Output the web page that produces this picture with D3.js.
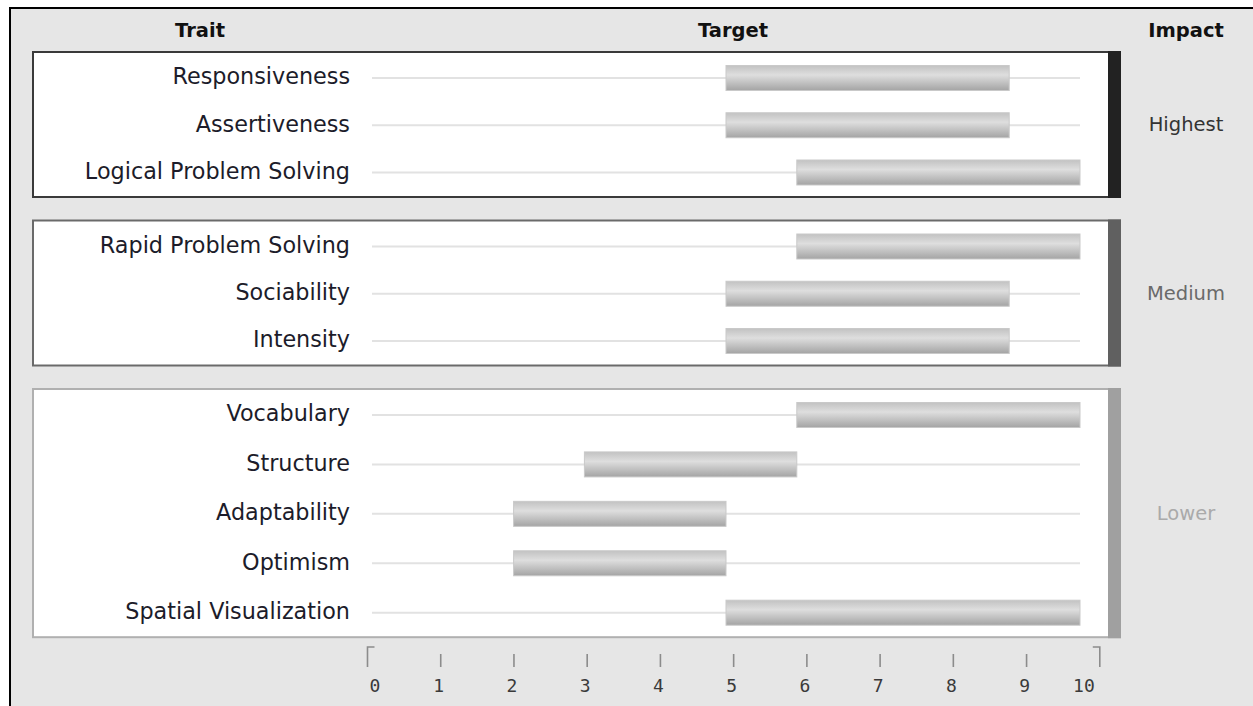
<!DOCTYPE html>
<html>
<head>
<meta charset="utf-8">
<script src="https://cdn.jsdelivr.net/npm/d3@7"></script>
<style>
  html, body { margin: 0; padding: 0; background: #ffffff; }
  svg { display: block; }
</style>
</head>
<body>
<svg id="chart" width="1253" height="706"></svg>
<script>
// ---- data ----
const impactLevels = ["Highest", "Medium", "Lower"];
const traits = ["Responsiveness", "Assertiveness", "Logical Problem Solving",
  "Rapid Problem Solving", "Sociability", "Intensity",
  "Vocabulary", "Structure", "Adaptability", "Optimism", "Spatial Visualization"];
const traitImpact = ["Highest", "Highest", "Highest",
  "Medium", "Medium", "Medium",
  "Lower", "Lower", "Lower", "Lower", "Lower"];
const targetLow  = [5, 5, 6, 6, 5, 5, 6, 3, 2, 2, 5];
const targetHigh = [9, 9, 10, 10, 9, 9, 10, 6, 5, 5, 10];
const tickLabels = [0, 1, 2, 3, 4, 5, 6, 7, 8, 9, 10];
const headers = ["Trait", "Target", "Impact"];

// ---- styles ----
const impactColor = { Highest: "#222222", Medium: "#606060", Lower: "#a0a0a0" };
const boxBorder   = { Highest: "#3a3a3a", Medium: "#6a6a6a", Lower: "#b0b0b0" };
const impactText  = { Highest: "#333333", Medium: "#6a6a6a", Lower: "#aaaaaa" };

const svg = d3.select("#chart");

// gradient for bars
const defs = svg.append("defs");
const grad = defs.append("linearGradient").attr("id", "barGrad")
  .attr("x1", 0).attr("y1", 0).attr("x2", 0).attr("y2", 1);
grad.append("stop").attr("offset", "0%").attr("stop-color", "#c2c2c2");
grad.append("stop").attr("offset", "38%").attr("stop-color", "#dedede");
grad.append("stop").attr("offset", "100%").attr("stop-color", "#a4a4a4");

// outer panel
svg.append("rect").attr("x", 10).attr("y", 8).attr("width", 1400).attr("height", 900)
  .attr("fill", "#e6e6e6").attr("stroke", "#000").attr("stroke-width", 2);

// scales
const xBar = d3.scaleLinear().domain([0, 10]).range([372, 1080]);
const xAxisScale = d3.scaleLinear().domain([0, 10]).range([367, 1099.3]);

const boxLeft = 33, boxRight = 1120, barStripW = 12;
const rowH = 51.6, boxShrink = 9.8, boxGap = 23.5, firstTop = 52;

// group layout
const groups = impactLevels.map(level => ({
  level,
  idx: traits.map((t, i) => i).filter(i => traitImpact[i] === level)
}));
let yCursor = firstTop;
groups.forEach(g => {
  g.top = yCursor;
  g.height = g.idx.length * rowH - boxShrink;
  g.bottom = g.top + g.height;
  g.y = d3.scalePoint().domain(g.idx.map(i => traits[i]))
    .range([g.top + 26, g.bottom - 24.5]);
  yCursor = g.bottom + boxGap;
});

// headers
const headerX = [200, 733, 1186];
svg.selectAll("text.header").data(headers).join("text")
  .attr("class", "header")
  .attr("x", (d, i) => headerX[i]).attr("y", 30)
  .attr("dy", "0.35em")
  .attr("text-anchor", "middle")
  .attr("font-family", "DejaVu Sans, Verdana, sans-serif")
  .attr("font-weight", "bold").attr("font-size", 19.5)
  .attr("fill", "#111")
  .text(d => d);

// boxes
const gBox = svg.selectAll("g.box").data(groups).join("g").attr("class", "box");
gBox.append("rect")
  .attr("x", boxLeft).attr("y", d => d.top)
  .attr("width", boxRight - boxLeft).attr("height", d => d.height)
  .attr("fill", "#fff").attr("stroke", d => boxBorder[d.level]).attr("stroke-width", 2);
gBox.append("rect")
  .attr("x", boxRight - barStripW).attr("y", d => d.top - 1)
  .attr("width", barStripW + 1).attr("height", d => d.height + 2)
  .attr("fill", d => impactColor[d.level]);
gBox.append("text")
  .attr("x", 1186).attr("y", d => (d.top + d.bottom) / 2)
  .attr("dy", "0.35em").attr("text-anchor", "middle")
  .attr("font-family", "DejaVu Sans, Verdana, sans-serif")
  .attr("font-size", 19.5)
  .attr("fill", d => impactText[d.level])
  .text(d => d.level);

// rows
const rows = traits.map((t, i) => {
  const g = groups.find(gg => gg.level === traitImpact[i]);
  return { name: t, lo: targetLow[i], hi: targetHigh[i], cy: g.y(t) };
});

svg.selectAll("line.track").data(rows).join("line")
  .attr("class", "track")
  .attr("x1", xBar(0)).attr("x2", xBar(10))
  .attr("y1", d => d.cy).attr("y2", d => d.cy)
  .attr("stroke", "#e2e2e2").attr("stroke-width", 2);

const barH = 25;
svg.selectAll("rect.bar").data(rows).join("rect")
  .attr("class", "bar")
  .attr("x", d => xBar(d.lo)).attr("y", d => d.cy - barH / 2)
  .attr("width", d => xBar(d.hi) - xBar(d.lo)).attr("height", barH)
  .attr("fill", "url(#barGrad)")
  .attr("stroke", "#c9c9c9").attr("stroke-width", 1);

svg.selectAll("text.trait").data(rows).join("text")
  .attr("class", "trait")
  .attr("x", 350).attr("y", d => d.cy - 1.5)
  .attr("dy", "0.35em").attr("text-anchor", "end")
  .attr("font-family", "DejaVu Sans, Verdana, sans-serif")
  .attr("font-size", 22.3)
  .attr("fill", "#1c1c2a")
  .text(d => d.name);

// axis
const axis = d3.axisBottom(xAxisScale)
  .tickValues(tickLabels).tickFormat(d => String(d))
  .tickSize(13).tickPadding(12);
const gAxis = svg.append("g").attr("transform", "translate(0,654)").call(axis);
gAxis.select(".domain").remove();
gAxis.selectAll(".tick line").attr("stroke", "#8c8c8c").attr("stroke-width", 1.6);
gAxis.selectAll(".tick text")
  .attr("font-family", "DejaVu Sans Mono, monospace")
  .attr("font-size", 18).attr("fill", "#3a3a3a")
  .attr("text-anchor", (d, i) => i === 0 ? "start" : (i === tickLabels.length - 1 ? "end" : "middle"))
  .attr("x", (d, i) => i === 0 ? 2 : (i === tickLabels.length - 1 ? -5 : -2));
// end brackets
const nT = tickLabels.length;
gAxis.selectAll(".tick").each(function (d, i) {
  if (i === 0 || i === nT - 1) {
    const t = d3.select(this);
    t.select("line").remove();
    const dir = i === 0 ? 1 : -1;
    t.append("path")
      .attr("d", `M${dir * 7},-7 H0 V13`)
      .attr("fill", "none").attr("stroke", "#8c8c8c").attr("stroke-width", 1.6);
  }
});
</script>
</body>
</html>
